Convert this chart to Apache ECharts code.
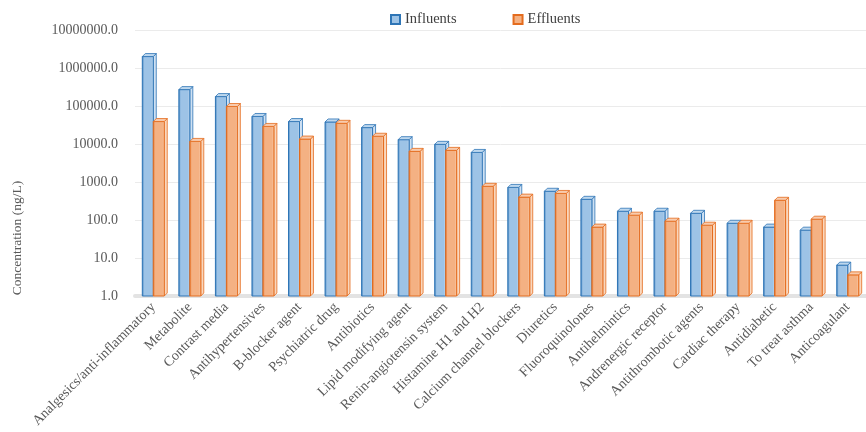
<!DOCTYPE html>
<html>
<head>
<meta charset="utf-8">
<script src="https://cdn.jsdelivr.net/npm/echarts@6/dist/echarts.min.js"></script>
<style>
  html, body { margin: 0; padding: 0; background: #fff; }
  #chart { width: 866px; height: 432px; }
</style>
</head>
<body>
<div id="chart"></div>
<script>
// drug classes along the x axis
const categories = [
  'Analgesics/anti-inflammatory', 'Metabolite', 'Contrast media', 'Antihypertensives',
  'B-blocker agent', 'Psychiatric drug', 'Antibiotics', 'Lipid modifying agent',
  'Renin-angiotensin system', 'Histamine H1 and H2', 'Calcium channel blockers', 'Diuretics',
  'Fluoroquinolones', 'Antihelmintics', 'Andrenergic receptor', 'Antithrombotic agents',
  'Cardiac therapy', 'Antidiabetic', 'To treat asthma', 'Anticoagulant'
]
// concentrations in ng/L
const influents = [2000000, 270000, 177000, 53000, 39000, 38000, 27000, 13000, 9800, 6000,
  720, 570, 350, 170, 170, 150, 82, 65, 54, 6.5]
const effluents = [39000, 11700, 97000, 29000, 13500, 35000, 16000, 6400, 6800, 770,
  400, 500, 65, 134, 93, 73, 82, 330, 105, 3.6]
const yTicks = [1, 10, 100, 1000, 10000, 100000, 1000000, 10000000]

const serif = '"Liberation Serif", "DejaVu Serif", serif'

const styles = [
  { name: 'Influents', front: '#9dc3e6', edge: '#2e75b6', side: '#cfe1f3', top: '#bdd7ee' },
  { name: 'Effluents', front: '#f4b183', edge: '#e46c1e', side: '#fad7bd', top: '#f8cbad' }
]

function bar3d(which) {
  const st = styles[which]
  return function (params, api) {
    const idx = api.value(0)
    const v = api.value(1)
    const band = api.size([1, 0])[0]
    const w = band * 0.3
    const center = api.coord([idx, 1])[0]
    const x0 = center - w + which * w
    const base = api.coord([idx, 1])[1]
    const top = api.coord([idx, v])[1]
    const dx = 3, dy = -3
    return {
      type: 'group',
      children: [
        {
          type: 'polygon',
          shape: { points: [[x0 + w, top], [x0 + w + dx, top + dy], [x0 + w + dx, base + dy], [x0 + w, base]] },
          style: { fill: st.side, stroke: st.edge, lineWidth: 0.8 }
        },
        {
          type: 'rect',
          shape: { x: x0, y: top, width: w, height: base - top },
          style: {
            fill: new echarts.graphic.LinearGradient(0, 0, 1, 0, [
              { offset: 0, color: st.edge },
              { offset: 0.2, color: st.front },
              { offset: 0.8, color: st.front },
              { offset: 1, color: st.side }
            ]),
            stroke: st.edge, lineWidth: 1
          }
        },
        {
          type: 'polygon',
          shape: { points: [[x0, top], [x0 + dx, top + dy], [x0 + w + dx, top + dy], [x0 + w, top]] },
          style: { fill: st.top, stroke: st.edge, lineWidth: 0.8 }
        }
      ]
    }
  }
}

const chart = echarts.init(document.getElementById('chart'))
chart.setOption({
  animation: false,
  legend: {
    top: 7,
    left: 385,
    itemWidth: 9,
    itemHeight: 9,
    itemGap: 56,
    icon: 'rect',
    textStyle: { fontFamily: serif, fontSize: 14.5, color: '#404040' },
    data: ['Influents', 'Effluents']
  },
  grid: { left: 135, right: 0, top: 30, bottom: 136 },
  xAxis: {
    type: 'category',
    data: categories,
    axisTick: { show: false },
    axisLine: { lineStyle: { color: '#e3e3e3', width: 4 } },
    axisLabel: {
      interval: 0,
      rotate: 45,
      margin: 9,
      fontFamily: serif,
      fontSize: 14,
      color: '#595959'
    }
  },
  yAxis: {
    type: 'log',
    logBase: 10,
    min: yTicks[0],
    max: yTicks[yTicks.length - 1],
    axisLine: { show: false },
    axisTick: { show: false },
    splitLine: { lineStyle: { color: '#ebebeb' } },
    axisLabel: {
      fontFamily: serif,
      fontSize: 14,
      color: '#595959',
      margin: 17,
      formatter: v => Number(v).toFixed(1)
    }
  },
  graphic: [{
    type: 'text',
    x: 17,
    y: 238,
    rotation: Math.PI / 2,
    style: {
      text: 'Concentration (ng/L)',
      font: '13.5px ' + serif,
      fill: '#595959',
      textAlign: 'center',
      textVerticalAlign: 'middle'
    }
  }],
  series: [
    {
      name: 'Influents',
      type: 'custom',
      renderItem: bar3d(0),
      itemStyle: { color: styles[0].front, borderColor: styles[0].edge, borderWidth: 1 },
      encode: { x: 0, y: 1 },
      data: influents.map((v, i) => [i, v])
    },
    {
      name: 'Effluents',
      type: 'custom',
      renderItem: bar3d(1),
      itemStyle: { color: styles[1].front, borderColor: styles[1].edge, borderWidth: 1 },
      encode: { x: 0, y: 1 },
      data: effluents.map((v, i) => [i, v])
    }
  ]
})
</script>
</body>
</html>
